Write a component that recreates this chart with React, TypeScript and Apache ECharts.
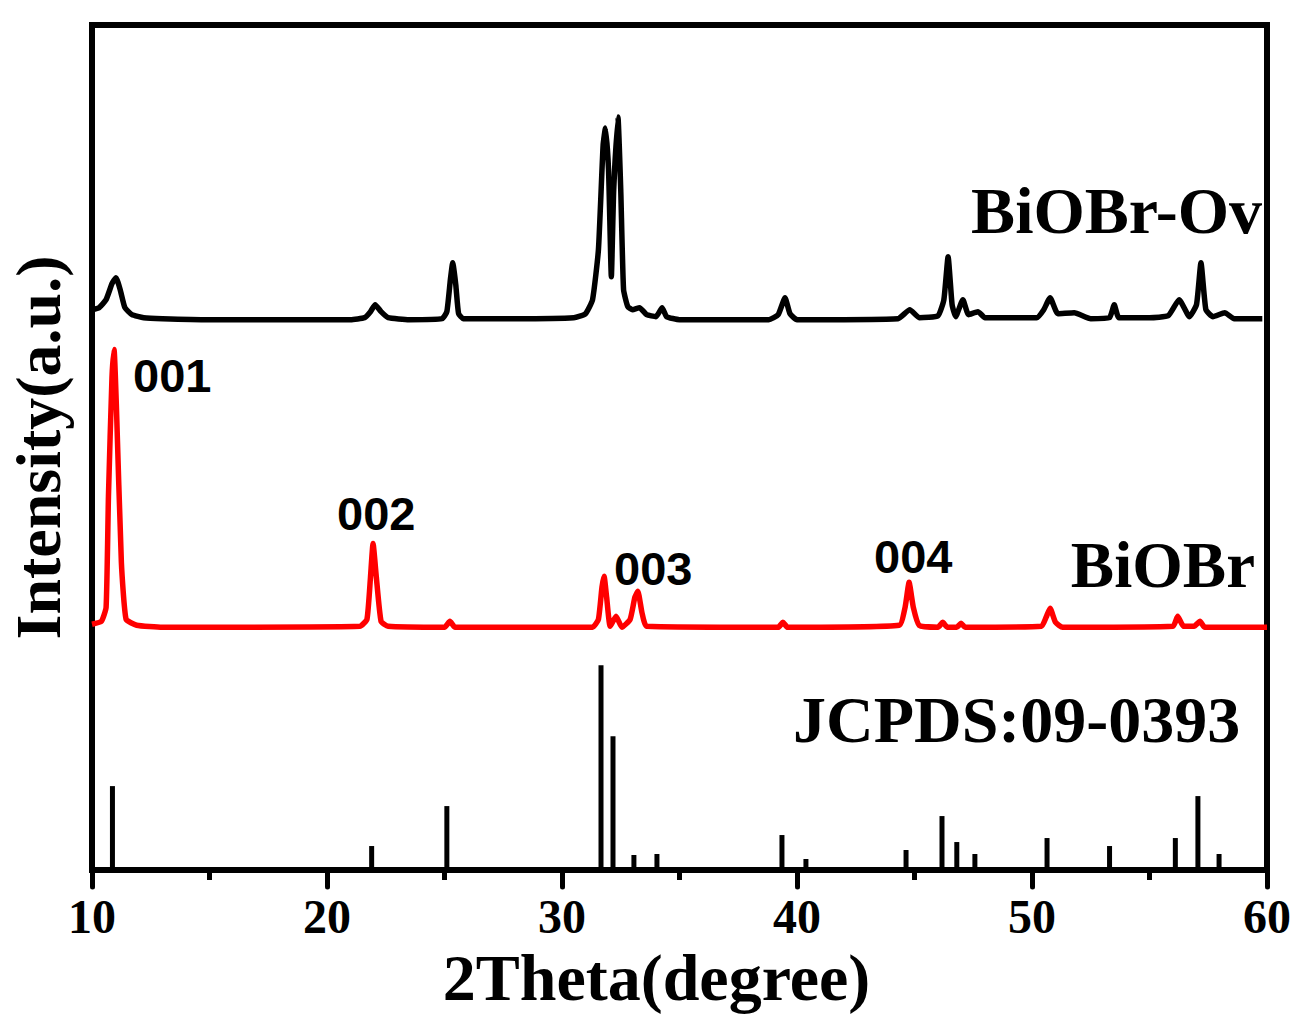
import React, { useEffect, useRef } from "react";
import * as echarts from "echarts";

// 2θ (degree) and intensity (a.u.) above each pattern's own baseline
const ovPoints: [number, number][] = [
  [10.0, 10], [10.3, 12], [10.6, 20], [10.85, 36], [11.02, 42], [11.2, 30], [11.4, 12], [11.7, 5],
  [12.2, 2], [13.0, 1], [15.0, 0], [18.0, 0], [21.0, 0], [21.6, 2], [21.85, 8], [22.05, 15],
  [22.3, 8], [22.6, 2], [23.5, 0], [24.9, 1], [25.1, 8], [25.25, 40], [25.35, 57], [25.48, 35],
  [25.6, 6], [25.8, 1], [28.0, 1], [30.5, 2], [31.0, 6], [31.3, 20], [31.55, 70], [31.75, 175],
  [31.85, 192], [31.98, 150], [32.1, 43], [32.2, 130], [32.38, 203], [32.5, 130], [32.62, 30],
  [32.8, 13], [33.0, 10], [33.3, 12], [33.6, 5], [34.0, 3], [34.26, 12], [34.45, 3], [35.0, 0],
  [38.8, 0], [39.2, 5], [39.49, 22], [39.7, 6], [40.0, 0], [44.3, 1], [44.8, 10], [45.2, 2],
  [46.0, 4], [46.25, 20], [46.43, 63], [46.6, 15], [46.75, 3], [47.06, 20], [47.3, 5], [47.7, 8],
  [48.0, 2], [50.2, 2], [50.5, 10], [50.77, 22], [51.1, 6], [51.8, 7], [52.5, 1], [53.3, 2],
  [53.5, 15], [53.7, 2], [55.0, 2], [55.8, 4], [56.26, 20], [56.7, 3], [57.0, 15], [57.19, 57],
  [57.4, 10], [57.7, 3], [58.2, 7], [58.6, 1], [59.8, 1],
];

const brPoints: [number, number][] = [
  [10.0, 3], [10.4, 6], [10.6, 20], [10.7, 131], [10.85, 250], [10.94, 278], [11.04, 220],
  [11.25, 65], [11.45, 8], [11.9, 2], [13.0, 0], [21.4, 1], [21.7, 8], [21.85, 50], [21.96, 84],
  [22.1, 50], [22.3, 6], [22.6, 1], [25.0, 0], [25.23, 6], [25.45, 0], [31.3, 0], [31.55, 8],
  [31.7, 40], [31.79, 51], [31.9, 30], [32.05, 1], [32.3, 11], [32.55, 0], [32.9, 8], [33.1, 30],
  [33.23, 36], [33.4, 15], [33.6, 1], [39.2, 0], [39.4, 5], [39.6, 0], [44.35, 2], [44.6, 20],
  [44.77, 45], [44.95, 20], [45.2, 2], [46.0, 0], [46.2, 5], [46.4, 0], [46.8, 0], [46.98, 4],
  [47.15, 0], [50.4, 1], [50.6, 10], [50.77, 19], [51.0, 5], [51.3, 0], [56.0, 1], [56.2, 11],
  [56.45, 1], [56.9, 1], [57.15, 6], [57.35, 0], [60.0, 0],
];

const refAngles: number[] = [10.87, 21.9, 25.1, 31.66, 32.17, 33.06, 34.04, 39.36, 40.38, 44.64, 46.17, 46.8, 47.57, 50.64, 53.3, 56.1, 57.06, 57.96];
const refHeights: number[] = [84, 24, 64, 205, 134, 15, 16, 35, 11, 20, 54, 28, 16, 32, 24, 32, 74, 16];

const ovOffset = 551;
const brOffset = 243;

const xTicks: number[] = [10, 20, 30, 40, 50, 60];

const serif = "'Liberation Serif', 'Times New Roman', serif";
const sans = "'Liberation Sans', Arial, sans-serif";

export default function App() {
  const ref = useRef<HTMLDivElement>(null);
  useEffect(() => {
    document.body.style.margin = "0";
    const chart = echarts.init(ref.current!, null, { renderer: "svg" });
    const ovData = ovPoints.map(([x, y]) => [x, y + ovOffset]);
    const brData = brPoints.map(([x, y]) => [x, y + brOffset]);
    const refData = refAngles.map((a, i) => [a, refHeights[i]]);
    chart.setOption({
      animation: false,
      backgroundColor: "#fff",
      grid: {
        left: 92, right: 39, top: 25, bottom: 150,
        show: true, borderColor: "#000", borderWidth: 6,
        containLabel: false, outerBoundsMode: "none",
      },
      xAxis: {
        type: "value",
        min: xTicks[0],
        max: xTicks[xTicks.length - 1],
        interval: 10,
        name: "2Theta(degree)",
        nameLocation: "middle",
        nameGap: 58,
        nameTextStyle: { fontFamily: serif, fontWeight: "bold", fontSize: 66, color: "#000", padding: [0, 46, 0, 0] },
        axisLine: { lineStyle: { color: "#000", width: 6 } },
        axisTick: { show: true, length: 17, lineStyle: { color: "#000", width: 5, cap: "round" } },
        minorTick: { show: true, splitNumber: 2, length: 10, lineStyle: { color: "#000", width: 5 } },
        axisLabel: { fontFamily: serif, fontWeight: "bold", fontSize: 48, color: "#000", margin: 22 },
        splitLine: { show: false },
      },
      yAxis: {
        type: "value",
        min: 0,
        max: 846,
        name: "Intensity(a.u.)",
        nameLocation: "middle",
        nameGap: 22,
        nameRotate: 90,
        nameTextStyle: { fontFamily: serif, fontWeight: "bold", fontSize: 64, color: "#000" },
        axisLine: { show: true, lineStyle: { color: "#000", width: 6 } },
        axisTick: { show: false },
        axisLabel: { show: false },
        splitLine: { show: false },
      },
      series: [
        {
          type: "line",
          name: "BiOBr-Ov",
          data: ovData,
          showSymbol: false,
          smooth: 0.15,
          lineStyle: { color: "#000", width: 5.5, join: "round" },
        },
        {
          type: "line",
          name: "BiOBr",
          data: brData,
          showSymbol: false,
          smooth: 0.15,
          lineStyle: { color: "#ff0000", width: 5.5, join: "round" },
        },
        {
          type: "bar",
          name: "JCPDS:09-0393",
          data: refData,
          barWidth: 5,
          itemStyle: { color: "#000" },
        },
      ],
      graphic: [
        { type: "text", right: 44, top: 177, style: { text: "BiOBr-Ov", font: `bold 66px ${serif}`, fill: "#000" } },
        { type: "text", right: 51, top: 532, style: { text: "BiOBr", font: `bold 65px ${serif}`, fill: "#000" } },
        { type: "text", left: 793, top: 686, style: { text: "JCPDS:09-0393", font: `bold 66px ${serif}`, fill: "#000" } },
        { type: "text", left: 133, top: 352, style: { text: "001", font: `bold 47px ${sans}`, fill: "#000" } },
        { type: "text", left: 337, top: 490, style: { text: "002", font: `bold 47px ${sans}`, fill: "#000" } },
        { type: "text", left: 614, top: 545, style: { text: "003", font: `bold 47px ${sans}`, fill: "#000" } },
        { type: "text", left: 874, top: 533, style: { text: "004", font: `bold 47px ${sans}`, fill: "#000" } },
      ],
    });
    return () => chart.dispose();
  }, []);
  return <div ref={ref} style={{ width: 1306, height: 1020 }} />;
}
